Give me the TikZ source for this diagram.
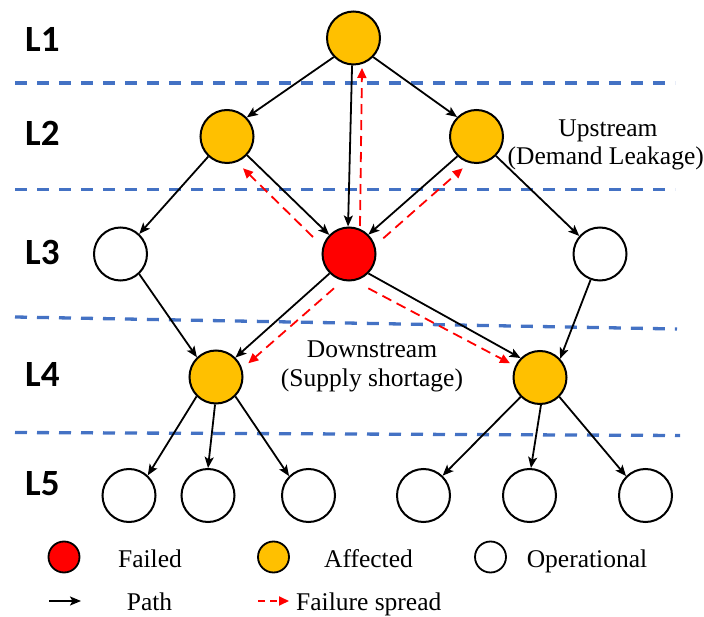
\documentclass[tikz,border=0pt]{standalone}
\usepackage{fontspec}
\setmainfont{Liberation Serif}
\newfontfamily\labfont{Carlito}
\usetikzlibrary{arrows.meta,calc}
\definecolor{aff}{HTML}{FFC000}
\definecolor{fail}{HTML}{FF0000}
\definecolor{lay}{HTML}{4472C4}
\begin{document}
\begin{tikzpicture}[x=1pt,y=-1pt,
  nd/.style={circle,draw=black,line width=2pt,minimum size=53pt,inner sep=0pt},
  lg/.style={circle,draw=black,line width=1.8pt,minimum size=31pt,inner sep=0pt},
  layer/.style={draw=lay,line width=3.3pt,dash pattern=on 12pt off 10pt},
  pathar/.style={draw=black,line width=1.8pt,-{Stealth[length=11pt,width=9pt,inset=2.5pt]}},
  spreadar/.style={draw=fail,line width=1.8pt,dash pattern=on 10pt off 6pt,-{Triangle[length=10pt,width=9pt]}},
  txt/.style={font=\fontsize{25.5}{30}\selectfont,inner sep=0pt},
  lbl/.style={font=\labfont\bfseries\fontsize{37}{40}\selectfont,inner sep=0pt,anchor=base west}]
\useasboundingbox (0,0) rectangle (704,617);
% layer separators
\draw[layer] (15,83) -- (675,83);
\draw[layer] (15,189.5) -- (675,189.5);
\draw[layer] (15,317) -- (677,329);
\draw[layer] (15,432.5) -- (680,435.5);
% layer labels
\node[lbl] (l1) at (25,52) {L1};
\node[lbl] (l2) at (25,146) {L2};
\node[lbl] (l3) at (25,265) {L3};
\node[lbl] (l4) at (25,386) {L4};
\node[lbl] (l5) at (25,495) {L5};
% nodes
\node[nd,fill=aff] (T) at (353.5,38) {};
\node[nd,fill=aff] (A) at (227,136.5) {};
\node[nd,fill=aff] (B) at (476.5,136.5) {};
\node[nd,fill=white] (C) at (120.5,254) {};
\node[nd,fill=fail] (R) at (349,254) {};
\node[nd,fill=white] (D) at (600,254) {};
\node[nd,fill=aff] (E) at (216,377) {};
\node[nd,fill=aff] (F) at (540,377.5) {};
\node[nd,fill=white] (N1) at (129,495.5) {};
\node[nd,fill=white] (N2) at (208,495.5) {};
\node[nd,fill=white] (N3) at (308.5,495.5) {};
\node[nd,fill=white] (N4) at (423.5,495.5) {};
\node[nd,fill=white] (N5) at (529.5,495.5) {};
\node[nd,fill=white] (N6) at (645.5,495.5) {};
% paths
\draw[pathar] (T.224) -- (A.44);
\draw[pathar] (T.-44) -- (B.135);
\draw[pathar] (T.-93) -- (R.92);
\draw[pathar] (A.-133) -- (C.47);
\draw[pathar] (A.-43) -- (R.136);
\draw[pathar] (B.-134) -- (R.45);
\draw[pathar] (B.-45) -- (D.139);
\draw[pathar] (C.-47) -- (E.134);
\draw[pathar] (R.225) -- (E.45);
\draw[pathar] (R.-45) -- (F.135);
\draw[pathar] (D.-110) -- (F.43);
\draw[pathar] (E.225) -- (N1.47);
\draw[pathar] (E.-92) -- (N2.90);
\draw[pathar] (E.-45) -- (N3.135);
\draw[pathar] (F.225) -- (N4.46);
\draw[pathar] (F.-88) -- (N5.87);
\draw[pathar] (F.-45) -- (N6.135);
% failure spread
\draw[spreadar] ($(R)+(11,-28)$) -- ($(T)+(8.5,30)$);
\draw[spreadar] ($(R)+(-36,-17)$) -- ($(A)+(16,31.8)$);
\draw[spreadar] ($(R)+(34.3,-15.7)$) -- ($(B)+(-13.8,31.8)$);
\draw[spreadar] ($(R)+(-15,34.3)$) -- ($(E)+(32.3,-13.7)$);
\draw[spreadar] ($(R)+(19.3,34.3)$) -- ($(F)+(-30,-14.2)$);
% annotations
\node[txt,anchor=base] (up1) at (608,137) {Upstream};
\node[txt,anchor=base east] (up2) at (704,165) {(Demand Leakage)};
\node[txt,anchor=base] (dn1) at (372,358) {Downstream};
\node[txt,anchor=base] (dn2) at (372,387) {(Supply shortage)};
% legend
\node[lg,fill=fail] (lf) at (64,557) {};
\node[lg,fill=aff] (la) at (273.5,557) {};
\node[lg,fill=white] (lo) at (490.5,557) {};
\node[txt,anchor=base] (tf) at (150,567) {Failed};
\node[txt,anchor=base] (ta) at (368.5,567) {Affected};
\node[txt,anchor=base] (to) at (587,567) {Operational};
\coordinate (pa1) at (49,601);
\coordinate (pa2) at (81,601);
\draw[pathar] (pa1) -- (pa2);
\node[txt,anchor=base] (tp) at (149.5,610) {Path};
\coordinate (sa1) at (258,601);
\coordinate (sa2) at (289,601);
\draw[spreadar,dash pattern=on 7pt off 5pt] (sa1) -- (sa2);
\node[txt,anchor=base west] (ts) at (296,610) {Failure spread};
\end{tikzpicture}
\end{document}
